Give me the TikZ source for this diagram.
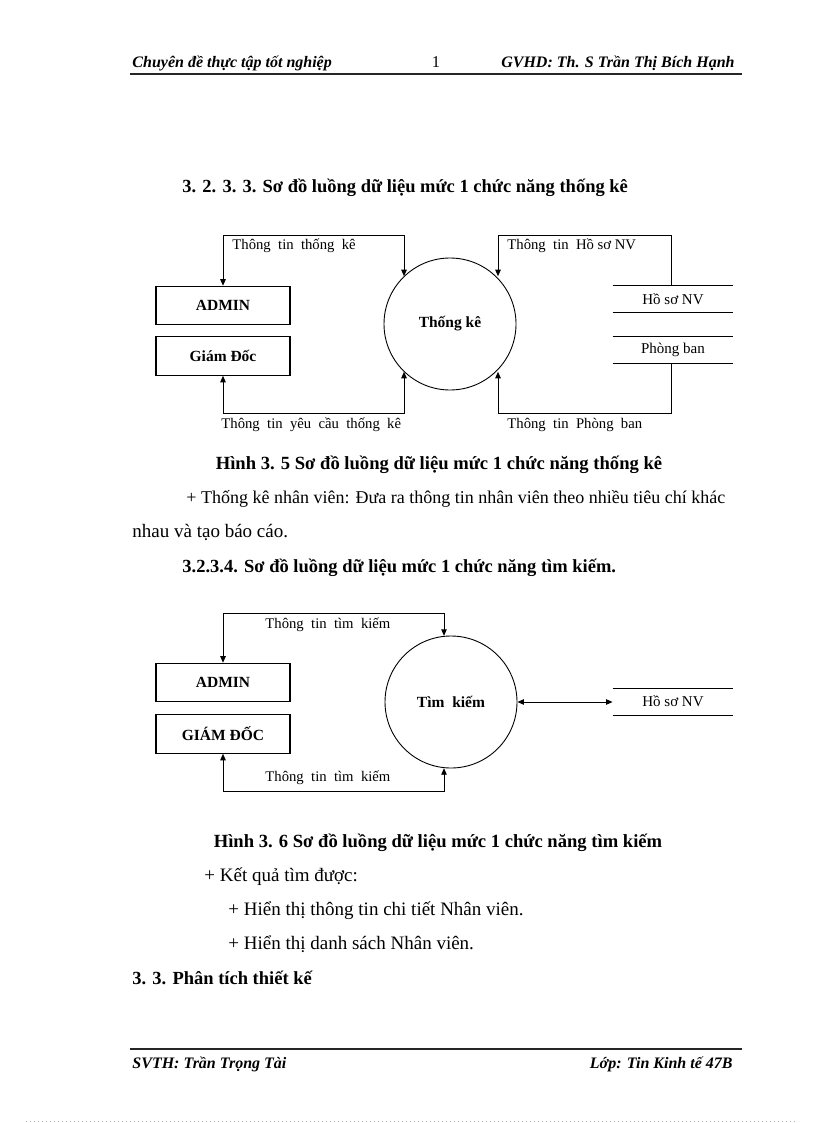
\documentclass[tikz,border=0pt]{standalone}
\usepackage{fontspec}
\setmainfont{Liberation Serif}
\usetikzlibrary{arrows.meta,calc}
\begin{document}
\begin{tikzpicture}[x=1pt,y=-1pt,
  line width=0.9pt,
  tip/.style={-{Triangle[length=6.5pt,width=5.5pt]}},
  tips/.style={{Triangle[length=6.5pt,width=5.5pt]}-{Triangle[length=6.5pt,width=5.5pt]}},
  body/.style={font=\fontsize{19}{23}\selectfont, anchor=base west, inner sep=0},
  bodyb/.style={font=\bfseries\fontsize{18.5}{23}\selectfont, anchor=base west, inner sep=0},
  caption/.style={font=\bfseries\fontsize{18.6}{23}\selectfont, anchor=base, inner sep=0},
  hdr/.style={font=\bfseries\itshape\fontsize{16}{20}\selectfont, inner sep=0},
  entity/.style={draw, line width=1.1pt, minimum width=134pt, minimum height=38.5pt, inner sep=0, font=\bfseries\fontsize{15.5}{18}\selectfont},
  proc/.style={draw, circle, minimum size=132pt, inner sep=0, font=\bfseries\fontsize{15.5}{18}\selectfont},
  store/.style={minimum width=120pt, minimum height=26pt, inner sep=0, font=\fontsize{15}{18}\selectfont},
  flowlbl/.style={anchor=west, inner sep=0, font=\fontsize{14.7}{18}\selectfont},
  rule/.style={line width=2.5pt, draw=black!85}
]
\useasboundingbox (0,0) rectangle (816,1123);
\fill[white] (0,0) rectangle (816,1123);

% header / footer
\node[hdr, anchor=base west] (h1) at (132,68) {Chuyên đề thực tập tốt nghiệp};
\node[font=\fontsize{16.5}{20}\selectfont, inner sep=0, anchor=base] (h2) at (436,68) {1};
\node[hdr, anchor=base east] (h3) at (735,68) {GVHD: Th. S Trần Thị Bích Hạnh};
\coordinate (hrl) at (130,74);
\coordinate (hrr) at (742,74);
\draw[rule] (hrl) -- (hrr);
\coordinate (frl) at (130,1049);
\coordinate (frr) at (742,1049);
\draw[rule] (frl) -- (frr);
\node[hdr, anchor=base west] (f1) at (132,1068) {SVTH: Trần Trọng Tài};
\node[hdr, anchor=base east] (f2) at (733,1068) {Lớp: Tin Kinh tế 47B};
\coordinate (dl) at (26,1121);
\coordinate (dr) at (795,1121);
\draw[black!30, line width=0.5pt, dash pattern=on 1pt off 3pt] (dl) -- (dr);

% text
\node[bodyb] (t1) at (182,193) {3. 2. 3. 3. Sơ đồ luồng dữ liệu mức 1 chức năng thống kê};
\node[caption] (c1) at (439,469) {Hình 3. 5 Sơ đồ luồng dữ liệu mức 1 chức năng thống kê};
\node[body, font=\fontsize{18}{23}\selectfont] (p1) at (186,503) {+ Thống kê nhân viên: Đưa ra thông tin nhân viên theo nhiều tiêu chí khác};
\node[body] (p2) at (132,537) {nhau và tạo báo cáo.};
\node[bodyb] (t2) at (182,572) {3.2.3.4. Sơ đồ luồng dữ liệu mức 1 chức năng tìm kiếm.};
\node[caption] (c2) at (438,847) {Hình 3. 6 Sơ đồ luồng dữ liệu mức 1 chức năng tìm kiếm};
\node[body] (p3) at (204,881) {+ Kết quả tìm được:};
\node[body] (p4) at (228,915) {+ Hiển thị thông tin chi tiết Nhân viên.};
\node[body] (p5) at (228,949) {+ Hiển thị danh sách Nhân viên.};
\node[bodyb] (t3) at (132,984) {3. 3. Phân tích thiết kế};

% ---------- diagram 1 ----------
\node[entity] (admin) at (223,305.5) {ADMIN};
\node[entity] (gd) at (223,356) {Giám Đốc};
\node[proc] (tk) at (450,324) {Thống kê};
\node[store] (hs) at (673,299) {Hồ sơ NV};
\node[store] (pb) at (673,350) {Phòng ban};
\draw (hs.north west) -- (hs.north east) (hs.south west) -- (hs.south east);
\draw (pb.north west) -- (pb.north east) (pb.south west) -- (pb.south east);

\coordinate (a1) at (404,235);
\coordinate (a2) at (404,413);
\coordinate (a3) at (498,235);
\coordinate (a4) at (498,413);
\draw[tips] (admin.north) |- (a1) -- (a1 |- tk.134);
\draw[tips] (gd.south) |- (a2) -- (a2 |- tk.226);
\draw[tip] (hs.north -| 671,0) |- (a3) -- (a3 |- tk.46);
\draw[tip] (pb.south -| 671,0) |- (a4) -- (a4 |- tk.314);

\node[flowlbl] (l1) at (232,246) {Thông\ \ tin\ \ thống\ \ kê};
\node[flowlbl] (l2) at (507,246) {Thông\ \ tin\ \ Hồ sơ NV};
\node[flowlbl] (l3) at (221,425) {Thông\ \ tin\ \ yêu\ \ cầu\ \ thống\ \ kê};
\node[flowlbl] (l4) at (507,425) {Thông\ \ tin\ \ Phòng\ \ ban};

% ---------- diagram 2 ----------
\node[entity] (admin2) at (223,682.5) {ADMIN};
\node[entity] (gd2) at (223,734) {GIÁM ĐỐC};
\node[proc] (tk2) at (451,702) {Tìm\ \ kiếm};
\node[store] (hs2) at (673,701.5) {Hồ sơ NV};
\draw (hs2.north west) -- (hs2.north east) (hs2.south west) -- (hs2.south east);

\coordinate (b1) at (444,613);
\coordinate (b2) at (444,791);
\draw[tips] (admin2.north) |- (b1) -- (b1 |- tk2.95);
\draw[tips] (gd2.south) |- (b2) -- (b2 |- tk2.265);
\draw[tips] (tk2.east) -- (tk2.east -| hs2.west);

\node[flowlbl] (m1) at (265,625) {Thông\ \ tin\ \ tìm\ \ kiếm};
\node[flowlbl] (m2) at (265,778) {Thông\ \ tin\ \ tìm\ \ kiếm};
\end{tikzpicture}
\end{document}
